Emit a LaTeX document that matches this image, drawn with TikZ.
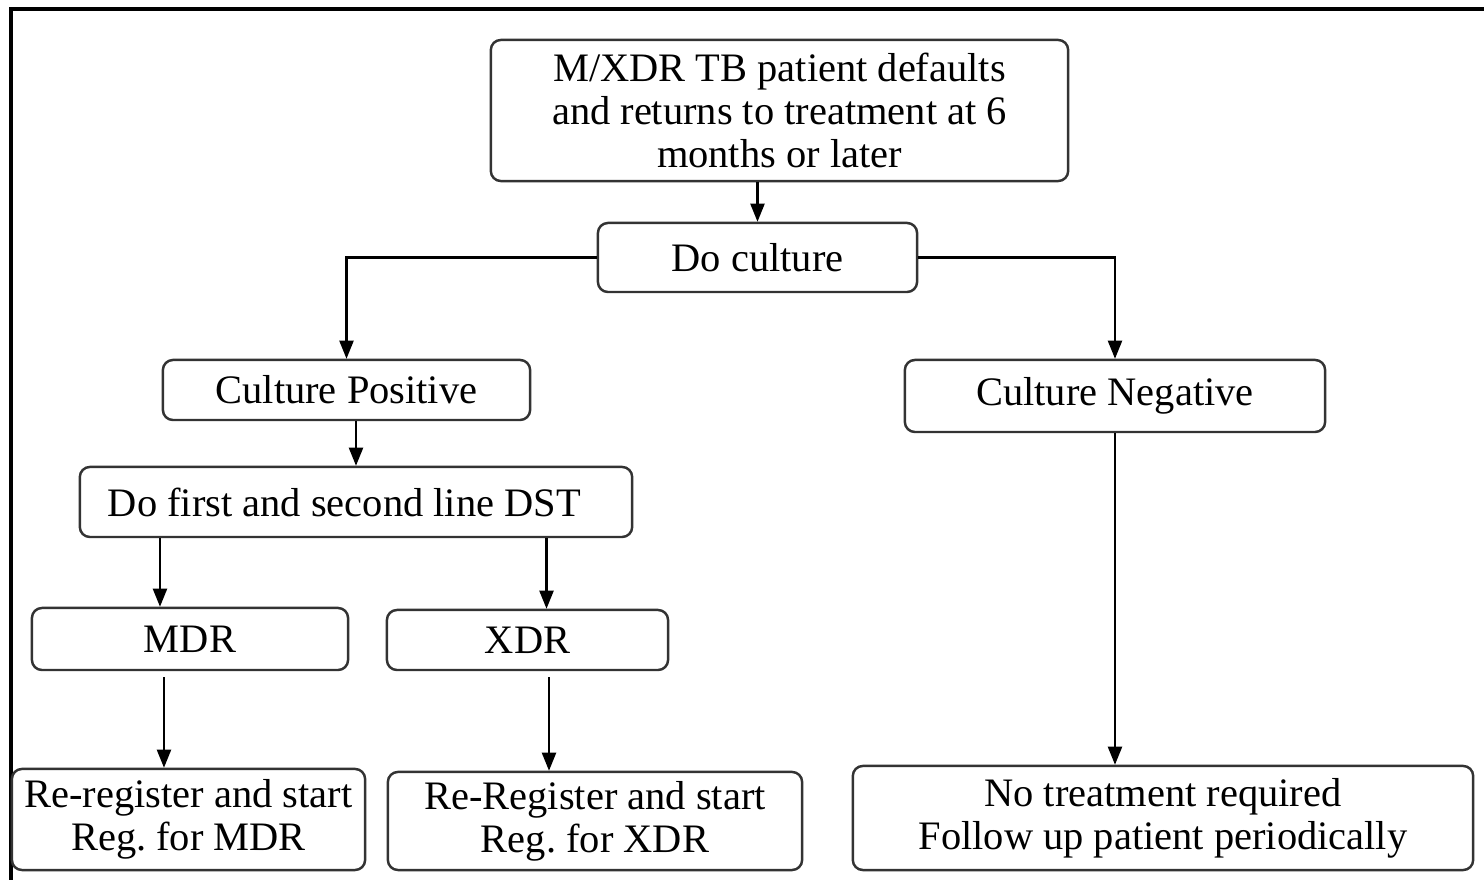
\documentclass[tikz,border=0pt]{standalone}
\usepackage{fontspec}
\setmainfont{Liberation Serif}
\usetikzlibrary{arrows.meta}
\frenchspacing

\begin{document}
\begin{tikzpicture}[x=0.01cm,y=-0.01cm,
	box/.style={draw=black!80,line width=0.7pt,rounded corners=0.1cm,inner sep=0pt,align=center,font=\fontsize{11.5}{12.2}\selectfont},
	arr/.style={-{Triangle[length=0.18cm,width=0.14cm]},line width=0.6pt}]
	\useasboundingbox (0,0) rectangle (1484,880);
	\draw[line width=1.1pt] (11,880) -- (11,9) -- (1484,9);
	% boxes
	\node[box,minimum width=5.77cm,minimum height=1.41cm] (start) at (779.5,110.5) {M/XDR TB patient defaults\\and returns to treatment at 6\\months or later};
	\node[box,minimum width=3.19cm,minimum height=0.69cm] (cult) at (757.5,257.5) {Do culture};
	\node[box,minimum width=3.67cm,minimum height=0.60cm] (pos) at (346.5,390) {Culture Positive};
	\node[box,minimum width=4.20cm,minimum height=0.72cm] (neg) at (1115,396) {Culture Negative};
	\node[box,minimum width=5.52cm,minimum height=0.70cm,text width=4.96cm,align=flush left] (dst) at (356,502) {Do first and second line DST};
	\node[box,minimum width=3.16cm,minimum height=0.62cm] (mdr) at (190,639) {MDR};
	\node[box,minimum width=2.81cm,minimum height=0.60cm] (xdr) at (527.5,640) {XDR};
	\node[box,minimum width=3.53cm,minimum height=1.01cm] (rmdr) at (188.5,819.5) {Re-register and start\\Reg. for MDR};
	\node[box,minimum width=4.14cm,minimum height=0.98cm] (rxdr) at (595,821) {Re-Register and start\\Reg. for XDR};
	\node[box,minimum width=6.20cm,minimum height=1.04cm] (none) at (1163,818) {No treatment required\\Follow up patient periodically};
	% connectors
	\draw[arr] (start.south -| cult.north) -- (cult.north);
	\draw[arr] (cult.west) -| (pos.north);
	\draw[arr] (cult.east) -| (neg.north);
	\draw[arr] (pos.south -| dst.north) -- (dst.north);
	\draw[arr] ([xshift=-0.3cm]mdr.north |- dst.south) -- ([xshift=-0.3cm]mdr.north);
	\draw[arr] ([xshift=0.19cm]xdr.north |- dst.south) -- ([xshift=0.19cm]xdr.north);
	\draw[arr,shorten <=0.06cm] ([xshift=-0.26cm]mdr.south) -- ([xshift=-0.26cm]mdr.south |- rmdr.north);
	\draw[arr,shorten <=0.06cm] ([xshift=0.215cm]xdr.south) -- ([xshift=0.215cm]xdr.south |- rxdr.north);
	\draw[arr] (neg.south) -- (neg.south |- none.north);
\end{tikzpicture}
\end{document}
